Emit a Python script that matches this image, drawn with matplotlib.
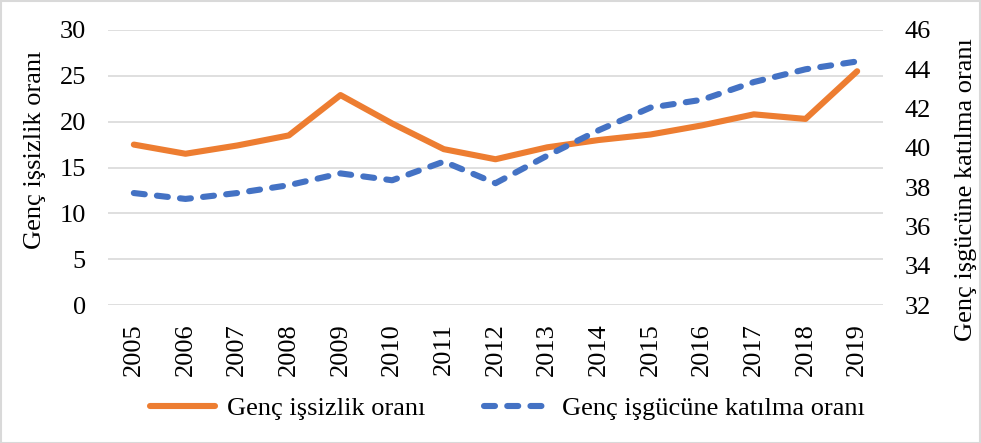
import matplotlib
matplotlib.use("Agg")
import matplotlib.pyplot as plt
from matplotlib.patches import Rectangle
from matplotlib.lines import Line2D

years = ["2005", "2006", "2007", "2008", "2009", "2010", "2011", "2012",
         "2013", "2014", "2015", "2016", "2017", "2018", "2019"]
unemployment = [17.5, 16.5, 17.4, 18.5, 22.9, 19.8, 17.0, 15.9, 17.2, 18.0,
                18.6, 19.6, 20.8, 20.3, 25.5]
participation = [37.7, 37.4, 37.7, 38.1, 38.7, 38.35, 39.3, 38.2, 39.6, 40.9,
                 42.05, 42.45, 43.35, 44.0, 44.4]

plt.rcParams['font.family'] = ['Liberation Serif', 'DejaVu Serif']
FS = 19
LW = 4.4
ORANGE = '#ED7D31'
BLUE = '#4472C4'
GRID = '#d9d9d9'
DASH = (0, (1.8, 2.0))

fig = plt.figure(figsize=(9.81, 4.43), dpi=100)
ax = fig.add_axes([108/981, 1 - 305/443, (883-108)/981, 275/443])
ax2 = ax.twinx()

x = list(range(len(years)))
ax.plot(x, unemployment, color=ORANGE, lw=LW, solid_capstyle='round',
        solid_joinstyle='round', zorder=3)
ax2.plot(x, participation, color=BLUE, lw=LW, linestyle=DASH,
         dash_capstyle='round', zorder=3)

ax.set_xlim(-0.5, len(years) - 0.5)
ax.set_ylim(0, 30)
ax.set_yticks(range(0, 31, 5))
ax2.set_ylim(32, 46)
ax2.set_yticks(range(32, 47, 2))
ax.set_xticks(x)
ax.set_xticklabels(years, rotation=90, fontsize=FS)
ax.tick_params(axis='y', length=0, labelsize=FS, pad=16)
ax2.tick_params(axis='y', length=0, labelsize=FS, pad=15.5)
ax.tick_params(axis='x', length=0, labelsize=FS, pad=13)

ax.grid(axis='y', color=GRID, lw=1.2)
ax.set_axisbelow(True)
for a in (ax, ax2):
    for s in a.spines.values():
        s.set_visible(False)

ax.set_ylabel("Genç işsizlik oranı", fontsize=FS, labelpad=10)
ax.yaxis.label.set_y(0.564)
ax2.set_ylabel("Genç işgücüne katılma oranı", fontsize=FS, rotation=90, labelpad=17)
ax2.yaxis.label.set_y(0.418)

handles = [Line2D([], [], color=ORANGE, lw=LW, solid_capstyle='round'),
           Line2D([], [], color=BLUE, lw=LW, linestyle=DASH, dash_capstyle='round')]
fig.legend(handles, ["Genç işsizlik oranı", "Genç işgücüne katılma oranı"],
           loc='center', bbox_to_anchor=(507/981, 1 - 408/443), ncol=2,
           frameon=False, fontsize=FS, handlelength=2.5, columnspacing=2.2,
           handletextpad=0.45)

fig.patches.append(Rectangle((0.5/981, 0.5/443), 1 - 1.5/981, 1 - 1.5/443,
                             transform=fig.transFigure, fill=False,
                             edgecolor=GRID, lw=1.5))

fig.savefig("out.png", dpi=100)
